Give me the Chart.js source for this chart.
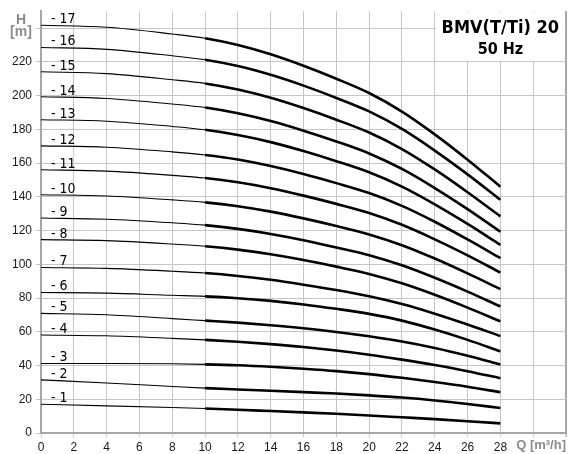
<!DOCTYPE html>
<html>
<head>
<meta charset="utf-8">
<script src="https://cdn.jsdelivr.net/npm/chart.js@4.4.1/dist/chart.umd.min.js"></script>
<style>
html, body { margin: 0; padding: 0; background: #fff; }
</style>
</head>
<body>
<canvas id="pumpChart" width="569" height="454"></canvas>
<script>
const GRID_COLOR = '#c6c6c6';
const FRAME_COLOR = '#a6a6a6';
const CURVE_COLOR = '#000';
const AXIS_TITLE_COLOR = '#8c8c8c';
const TICK_FONT = '"Liberation Sans", Arial, sans-serif';
const LABEL_FONT = '"DejaVu Sans Condensed", "DejaVu Sans", sans-serif';

// flow rate Q [m3/h], shared by every curve
const flow = [0, 4, 8, 10, 12, 14, 16, 18, 20, 22, 24, 26, 28];

// head H [m] per stage count
const head1  = [17.0, 16.1, 15.1, 14.5, 13.8, 13.0, 12.2, 11.4, 10.4, 9.3, 8.2, 7.0, 5.7];
const head2  = [31.5, 29.6, 27.6, 26.6, 25.8, 25.0, 24.2, 23.4, 22.3, 21.0, 19.3, 17.2, 14.8];
const head3  = [41.2, 41.2, 41.0, 40.7, 40.2, 39.3, 38.1, 36.7, 34.9, 32.7, 30.2, 27.4, 24.2];
const head4  = [58.1, 57.6, 56.1, 55.2, 54.1, 52.7, 51.0, 48.9, 46.4, 43.5, 40.3, 36.6, 32.5];
const head5  = [70.9, 70.1, 67.8, 66.6, 65.4, 63.9, 62.1, 59.9, 57.3, 54.2, 50.4, 45.8, 40.6];
const head6  = [83.3, 82.9, 81.6, 81.0, 79.9, 78.3, 76.2, 73.6, 70.6, 66.6, 61.3, 55.2, 48.4];
const head7  = [98.1, 97.6, 95.9, 94.8, 93.1, 90.8, 87.9, 84.7, 81.0, 76.4, 70.7, 64.3, 57.5];
const head8  = [114.6, 114.0, 112.0, 110.7, 108.7, 105.9, 102.5, 98.6, 94.3, 88.7, 81.9, 74.3, 66.2];
const head9  = [127.4, 126.7, 124.6, 123.2, 121.0, 118.0, 114.3, 110.0, 105.4, 99.4, 92.0, 83.8, 75.0];
const head10 = [141.2, 140.5, 138.2, 136.7, 134.4, 131.2, 127.2, 122.7, 117.7, 111.3, 103.4, 94.6, 85.3];
const head11 = [156.0, 155.2, 152.7, 151.1, 148.6, 145.1, 140.7, 135.8, 130.4, 123.4, 114.8, 105.3, 95.1];
const head12 = [170.2, 169.4, 166.6, 164.8, 162.1, 158.2, 153.5, 148.1, 142.2, 134.6, 125.2, 114.7, 103.6];
const head13 = [185.7, 184.8, 181.7, 179.7, 176.6, 172.4, 167.1, 161.1, 154.5, 146.0, 135.5, 123.9, 111.5];
const head14 = [199.3, 198.3, 195.0, 192.9, 189.5, 184.9, 179.2, 172.8, 165.7, 156.5, 145.2, 132.7, 119.3];
const head15 = [214.1, 213.0, 209.4, 207.2, 203.6, 198.7, 192.6, 185.7, 178.1, 168.3, 156.2, 142.7, 128.4];
const head16 = [228.5, 227.4, 223.6, 221.2, 217.5, 212.3, 205.9, 198.6, 190.6, 180.2, 167.4, 153.3, 138.2];
const head17 = [241.7, 240.5, 236.5, 234.0, 230.0, 224.5, 217.7, 210.0, 201.5, 190.5, 177.0, 162.0, 146.0];

const stageLabels = ['- 1', '- 2', '- 3', '- 4', '- 5', '- 6', '- 7', '- 8', '- 9',
    '- 10', '- 11', '- 12', '- 13', '- 14', '- 15', '- 16', '- 17'];
const heads = [head1, head2, head3, head4, head5, head6, head7, head8, head9,
    head10, head11, head12, head13, head14, head15, head16, head17];

const TITLE_LINE1 = 'BMV(T/Ti) 20';
const TITLE_LINE2 = '50 Hz';
const X_AXIS_TITLE = 'Q [m³/h]';
const Y_AXIS_TITLE = ['H', '[m]'];

const datasets = heads.map((h, i) => ({
    label: stageLabels[i],
    data: flow.map((q, j) => ({x: q, y: h[j]})),
    borderColor: CURVE_COLOR,
    borderWidth: 1.1,
    pointRadius: 0,
    cubicInterpolationMode: 'monotone',
    segment: {
        // working range drawn heavier
        borderWidth: ctx => ctx.p0.parsed.x >= 10 ? 2.6 : 1.1,
    },
}));

const decorations = {
    id: 'decorations',
    beforeDatasetsDraw(chart) {
        const {ctx, scales: {x, y}} = chart;
        const left = x.getPixelForValue(24) + 1;
        const right = x.getPixelForValue(32) - 1;
        const top = y.getPixelForValue(250) + 1;
        const bottom = y.getPixelForValue(220) - 1;
        ctx.save();
        ctx.fillStyle = '#fff';
        ctx.fillRect(left, top, right - left, bottom - top);
        ctx.fillStyle = '#000';
        ctx.textAlign = 'center';
        ctx.textBaseline = 'middle';
        const cx = (x.getPixelForValue(24) + x.getPixelForValue(32)) / 2;
        ctx.font = 'bold 18px ' + LABEL_FONT;
        ctx.fillText(TITLE_LINE1, cx, top + 16);
        ctx.font = 'bold 16px ' + LABEL_FONT;
        ctx.fillText(TITLE_LINE2, cx, top + 38);
        ctx.restore();
    },
    afterDatasetsDraw(chart) {
        const {ctx, chartArea} = chart;
        ctx.save();
        ctx.fillStyle = '#000';
        ctx.font = '14px ' + LABEL_FONT;
        ctx.textAlign = 'left';
        ctx.textBaseline = 'alphabetic';
        chart.data.datasets.forEach((ds, i) => {
            const start = chart.getDatasetMeta(i).data[0];
            ctx.fillText(ds.label, chartArea.left + 10, start.y - 2);
        });
        ctx.restore();
    },
    afterDraw(chart) {
        const {ctx, chartArea} = chart;
        ctx.save();
        ctx.fillStyle = AXIS_TITLE_COLOR;
        ctx.font = 'bold 14px ' + TICK_FONT;
        ctx.textAlign = 'center';
        ctx.textBaseline = 'middle';
        ctx.fillText(Y_AXIS_TITLE[0], 21, chartArea.top + 9);
        ctx.fillText(Y_AXIS_TITLE[1], 21, chartArea.top + 21);
        ctx.font = 'bold 13px ' + TICK_FONT;
        ctx.textAlign = 'right';
        ctx.textBaseline = 'top';
        ctx.fillText(X_AXIS_TITLE, chartArea.right, chartArea.bottom + 6);
        ctx.restore();
    },
};

new Chart(document.getElementById('pumpChart'), {
    type: 'line',
    data: {datasets: datasets},
    options: {
        responsive: false,
        animation: false,
        layout: {padding: {top: 10, right: 3, left: 0, bottom: 0}},
        plugins: {
            legend: {display: false},
            tooltip: {enabled: false},
        },
        scales: {
            x: {
                type: 'linear',
                min: 0,
                max: 32,
                afterFit: s => { s.height = 21; },
                ticks: {
                    stepSize: 2,
                    autoSkip: false,
                    maxRotation: 0,
                    padding: 3,
                    color: '#1a1a1a',
                    font: {family: TICK_FONT, size: 12},
                    callback: v => v <= 28 ? v : '',
                },
                grid: {
                    color: c => c.tick && c.tick.value === 32 ? FRAME_COLOR : GRID_COLOR,
                    lineWidth: c => c.tick && c.tick.value === 32 ? 2 : 1,
                    tickLength: 4,
                    tickColor: GRID_COLOR,
                },
                border: {color: FRAME_COLOR, width: 2},
            },
            y: {
                min: 0,
                max: 250,
                afterFit: s => { s.width = 41; },
                ticks: {
                    stepSize: 10,
                    padding: 4,
                    color: '#1a1a1a',
                    font: {family: TICK_FONT, size: 12},
                    callback: v => (v % 20 === 0 && v <= 220) ? v : '',
                },
                grid: {
                    color: c => c.tick && c.tick.value === 250 ? FRAME_COLOR : GRID_COLOR,
                    lineWidth: c => c.tick && c.tick.value === 250 ? 2 : 1,
                    tickLength: 5,
                    tickColor: GRID_COLOR,
                },
                border: {color: FRAME_COLOR, width: 2},
            },
        },
    },
    plugins: [decorations],
});
</script>
</body>
</html>
